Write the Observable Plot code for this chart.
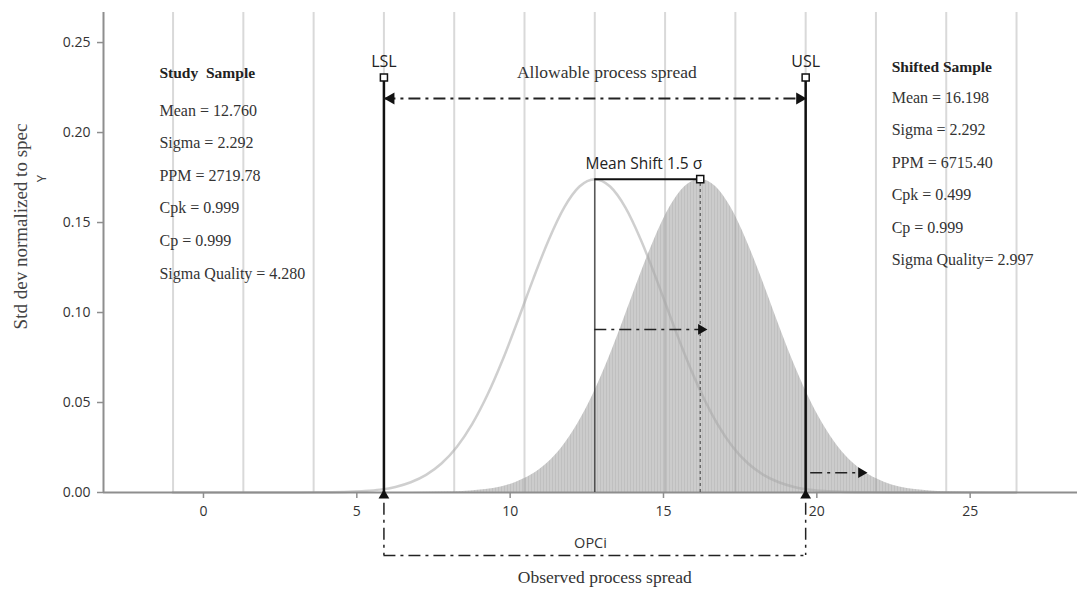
<!DOCTYPE html>
<html>
<head>
<meta charset="utf-8">
<script src="https://cdn.jsdelivr.net/npm/d3@7"></script>
<script src="https://cdn.jsdelivr.net/npm/@observablehq/plot@0.6"></script>
<style>
  html, body { margin: 0; padding: 0; background: #fff; }
  #chart svg { display: block; }
</style>
</head>
<body>
<div id="chart"></div>
<script>
// ---- data ----
const xTicks = [0, 5, 10, 15, 20, 25];
const yTicks = [0, 0.05, 0.10, 0.15, 0.20, 0.25];
// sigma grid lines (study mean ± k·sigma)
const gridX = [-0.992, 1.300, 3.592, 5.884, 8.176, 10.468, 12.760, 15.052, 17.344, 19.636, 21.928, 24.220, 26.512];
// study sample curve
const studyX = [-1.0, 2.76, 3.76, 4.76, 5.26, 5.76, 6.26, 6.76, 7.26, 7.76, 8.26, 8.76, 9.26, 9.76, 10.26, 10.76, 11.26, 11.76, 12.26, 12.76, 13.26, 13.76, 14.26, 14.76, 15.26, 15.76, 16.26, 16.76, 17.26, 17.76, 18.26, 18.76, 19.26, 19.76, 20.26, 20.76, 21.76, 22.76, 26.5];
const studyY = [0, 0.0000, 0.0001, 0.0004, 0.0008, 0.0016, 0.0031, 0.0057, 0.0098, 0.0161, 0.0253, 0.0380, 0.0543, 0.0739, 0.0960, 0.1190, 0.1405, 0.1583, 0.1700, 0.1741, 0.1700, 0.1583, 0.1405, 0.1190, 0.0960, 0.0739, 0.0543, 0.0380, 0.0253, 0.0161, 0.0098, 0.0057, 0.0031, 0.0016, 0.0008, 0.0004, 0.0001, 0.0000, 0];
// shifted sample (shaded)
const shiftX = [6.2, 7.2, 8.2, 8.7, 9.2, 9.7, 10.2, 10.7, 11.2, 11.7, 12.2, 12.7, 13.2, 13.7, 14.2, 14.7, 15.2, 15.7, 16.2, 16.7, 17.2, 17.7, 18.2, 18.7, 19.2, 19.7, 20.2, 20.7, 21.2, 21.7, 22.2, 22.7, 23.2, 23.7, 24.2, 25.2, 26.2];
const shiftY = [0.0000, 0.0001, 0.0004, 0.0008, 0.0016, 0.0031, 0.0057, 0.0098, 0.0161, 0.0253, 0.0380, 0.0543, 0.0739, 0.0960, 0.1190, 0.1405, 0.1583, 0.1700, 0.1741, 0.1700, 0.1583, 0.1405, 0.1190, 0.0960, 0.0739, 0.0543, 0.0380, 0.0253, 0.0161, 0.0098, 0.0057, 0.0031, 0.0016, 0.0008, 0.0004, 0.0001, 0.0000];
const specLabels = ["LSL", "USL"];
const specX = [5.884, 19.636];
const specTop = 0.2306;
const studyMean = 12.76;
const shiftedMean = 16.198;
const peakY = 0.1741;
const allowableY = 0.2189;
const shiftArrowY = 0.0906;
const tailArrowX = [19.8, 21.45];
const tailArrowY = 0.011;
const bracketY = [-0.006, -0.035];
const studyTitle = "Study  Sample";
const studyStats = ["Mean = 12.760", "Sigma = 2.292", "PPM = 2719.78", "Cpk = 0.999", "Cp = 0.999", "Sigma Quality = 4.280"];
const shiftedTitle = "Shifted Sample";
const shiftedStats = ["Mean = 16.198", "Sigma = 2.292", "PPM = 6715.40", "Cpk = 0.499", "Cp = 0.999", "Sigma Quality= 2.997"];

// ---- layout ----
const W = 1077, H = 589;
const mTop = 12, mBottom = 97, mLeft = 103, mRight = 0;
const yMax = 0.2667;
const pxPerY = (H - mTop - mBottom) / yMax;
const py = px => px / pxPerY; // pixels to y-units
const serif = "'Liberation Serif', 'Times New Roman', serif";
const sans = "'Open Sans', 'DejaVu Sans', sans-serif";
const dashDot = "12,5,3,5";
const axisGray = "#8e8e8e";

const studyCurve = studyX.map((x, i) => ({x, y: studyY[i]}));
const shiftCurve = shiftX.map((x, i) => ({x, y: shiftY[i]}));
const specs = specLabels.map((label, i) => ({label, x: specX[i]}));

const studyTop = py(492 - 73);
const shiftedTop = py(492 - 67);
const studyRows = studyStats.map((t, i) => ({t, y: studyTop - py(37 + 32.6 * i)}));
const shiftedRows = shiftedStats.map((t, i) => ({t, y: shiftedTop - py(30 + 32.5 * i)}));

const chart = Plot.plot({
  width: W, height: H,
  marginTop: mTop, marginBottom: mBottom, marginLeft: mLeft, marginRight: mRight,
  x: {domain: [-3.26, 28.5]},
  y: {domain: [0, yMax]},
  style: {fontFamily: sans, fontSize: "14px", color: "#333", background: "white"},
  marks: [
    // shaded shifted distribution
    Plot.areaY(shiftCurve, {x: "x", y: "y", fill: "url(#vstripes)", curve: "monotone-x"}),
    // sigma grid lines
    Plot.ruleX(gridX, {y1: 0, y2: yMax, stroke: "#9a9a9a", strokeOpacity: 0.38, strokeWidth: 2}),
    // study curve
    Plot.line(studyCurve, {x: "x", y: "y", stroke: "#a8a8a8", strokeOpacity: 0.55, strokeWidth: 2.5, curve: "monotone-x"}),
    // axes lines
    Plot.ruleY([0], {stroke: axisGray, strokeWidth: 2}),
    Plot.ruleX([-3.26], {y1: 0, y2: yMax, stroke: axisGray, strokeWidth: 2}),
    Plot.axisY({ticks: yTicks, tickFormat: d3.format(".2f"), tickSize: 6, tickPadding: 7, stroke: axisGray, strokeWidth: 1.5, fontSize: 14, label: null}),
    Plot.axisX({ticks: xTicks, tickSize: 6, tickPadding: 8, stroke: axisGray, strokeWidth: 1.5, fontSize: 14, label: null}),
    // study mean vertical line & shifted mean dashed line
    Plot.ruleX([studyMean], {y1: 0, y2: peakY, stroke: "#3a3a3a", strokeWidth: 1.2}),
    Plot.ruleX([shiftedMean], {y1: 0, y2: peakY, stroke: "#555", strokeWidth: 1.2, strokeDasharray: "3,3"}),
    // mean shift bar
    Plot.ruleY([peakY], {x1: studyMean, x2: shiftedMean, stroke: "#111", strokeWidth: 2}),
    Plot.dot([shiftedMean], {x: d => d, y: peakY, symbol: "square", r: 4, fill: "white", stroke: "#111", strokeWidth: 1.5}),
    Plot.text(["Mean Shift 1.5 σ"], {x: shiftedMean, y: peakY, dy: -15, dx: 2, textAnchor: "end", fontSize: 15.5, fontFamily: sans, fill: "#222"}),
    // spec limit lines
    Plot.ruleX(specs, {x: "x", y1: 0, y2: specTop, stroke: "#111", strokeWidth: 2.5}),
    Plot.dot(specs, {x: "x", y: specTop, symbol: "square", r: 4, fill: "white", stroke: "#111", strokeWidth: 1.5}),
    Plot.text(specs, {x: "x", y: specTop, text: "label", dy: -16, fontSize: 16, fontFamily: sans, fill: "#222"}),
    Plot.dot(specs, {x: "x", y: 0, dy: 3, symbol: "triangle", r: 4, fill: "#111", stroke: "none"}),
    // allowable spread arrow
    Plot.ruleY([allowableY], {x1: specX[0], x2: specX[1], stroke: "#222", strokeWidth: 2, strokeDasharray: dashDot}),
    Plot.dot([specX[0]], {x: d => d, y: allowableY, dx: 7, symbol: "triangle", rotate: -90, r: 4.5, fill: "#111", stroke: "none"}),
    Plot.dot([specX[1]], {x: d => d, y: allowableY, dx: -6, symbol: "triangle", rotate: 90, r: 4.5, fill: "#111", stroke: "none"}),
    Plot.text(["Allowable process spread"], {x: (specX[0] + specX[1]) / 2, y: allowableY, dy: -26, dx: 12, fontSize: 17.5, fontFamily: serif, fill: "#333"}),
    // mean shift arrow
    Plot.ruleY([shiftArrowY], {x1: studyMean, x2: shiftedMean, stroke: "#222", strokeWidth: 1.6, strokeDasharray: dashDot}),
    Plot.dot([shiftedMean], {x: d => d, y: shiftArrowY, dx: 1, symbol: "triangle", rotate: 90, r: 4, fill: "#111", stroke: "none"}),
    // tail arrow beyond USL
    Plot.ruleY([tailArrowY], {x1: tailArrowX[0], x2: tailArrowX[1], stroke: "#222", strokeWidth: 1.6, strokeDasharray: dashDot}),
    Plot.dot([tailArrowX[1]], {x: d => d, y: tailArrowY, symbol: "triangle", rotate: 90, r: 4, fill: "#111", stroke: "none"}),
    // observed spread bracket
    Plot.ruleX(specX, {y1: bracketY[0], y2: bracketY[1], stroke: "#222", strokeWidth: 1.5, strokeDasharray: dashDot}),
    Plot.ruleY([bracketY[1]], {x1: specX[0], x2: specX[1], stroke: "#222", strokeWidth: 1.5, strokeDasharray: dashDot}),
    Plot.text(["Observed process spread"], {x: (specX[0] + specX[1]) / 2, y: bracketY[1], dy: 22, dx: 10, fontSize: 17.5, fontFamily: serif, fill: "#333"}),
    Plot.text(["OPCi"], {frameAnchor: "bottom", dy: 55, fontSize: 14.5, fontFamily: sans, fill: "#333"}),
    // y labels
    Plot.text(["Std dev normalized to spec"], {frameAnchor: "left", textAnchor: "middle", y: py(492 - 226), dx: -83, rotate: -90, fontSize: 19, fontFamily: serif, fill: "#444"}),
    Plot.text(["Y"], {frameAnchor: "left", textAnchor: "middle", y: py(492 - 178), dx: -62, rotate: -90, fontSize: 13, fontFamily: sans, fill: "#444"}),
    // stats text blocks
    Plot.text([studyTitle], {x: -1.435, y: studyTop, textAnchor: "start", fontSize: 15.5, fontWeight: "bold", fontFamily: serif, fill: "#222"}),
    Plot.text(studyRows, {x: -1.435, y: "y", text: "t", textAnchor: "start", fontSize: 16, fontFamily: serif, fill: "#333"}),
    Plot.text([shiftedTitle], {x: 22.44, y: shiftedTop, textAnchor: "start", fontSize: 15.5, fontWeight: "bold", fontFamily: serif, fill: "#222"}),
    Plot.text(shiftedRows, {x: 22.44, y: "y", text: "t", textAnchor: "start", fontSize: 16, fontFamily: serif, fill: "#333"})
  ]
});

// stripe pattern for the shaded area
const ns = "http://www.w3.org/2000/svg";
const defs = document.createElementNS(ns, "defs");
defs.innerHTML = `<pattern id="vstripes" patternUnits="userSpaceOnUse" width="3" height="10">
  <rect width="3" height="10" fill="#cccccc"></rect>
  <rect x="0" width="1" height="10" fill="#c0c0c0"></rect>
</pattern>`;
chart.insertBefore(defs, chart.firstChild);
document.getElementById("chart").appendChild(chart);
</script>
</body>
</html>
